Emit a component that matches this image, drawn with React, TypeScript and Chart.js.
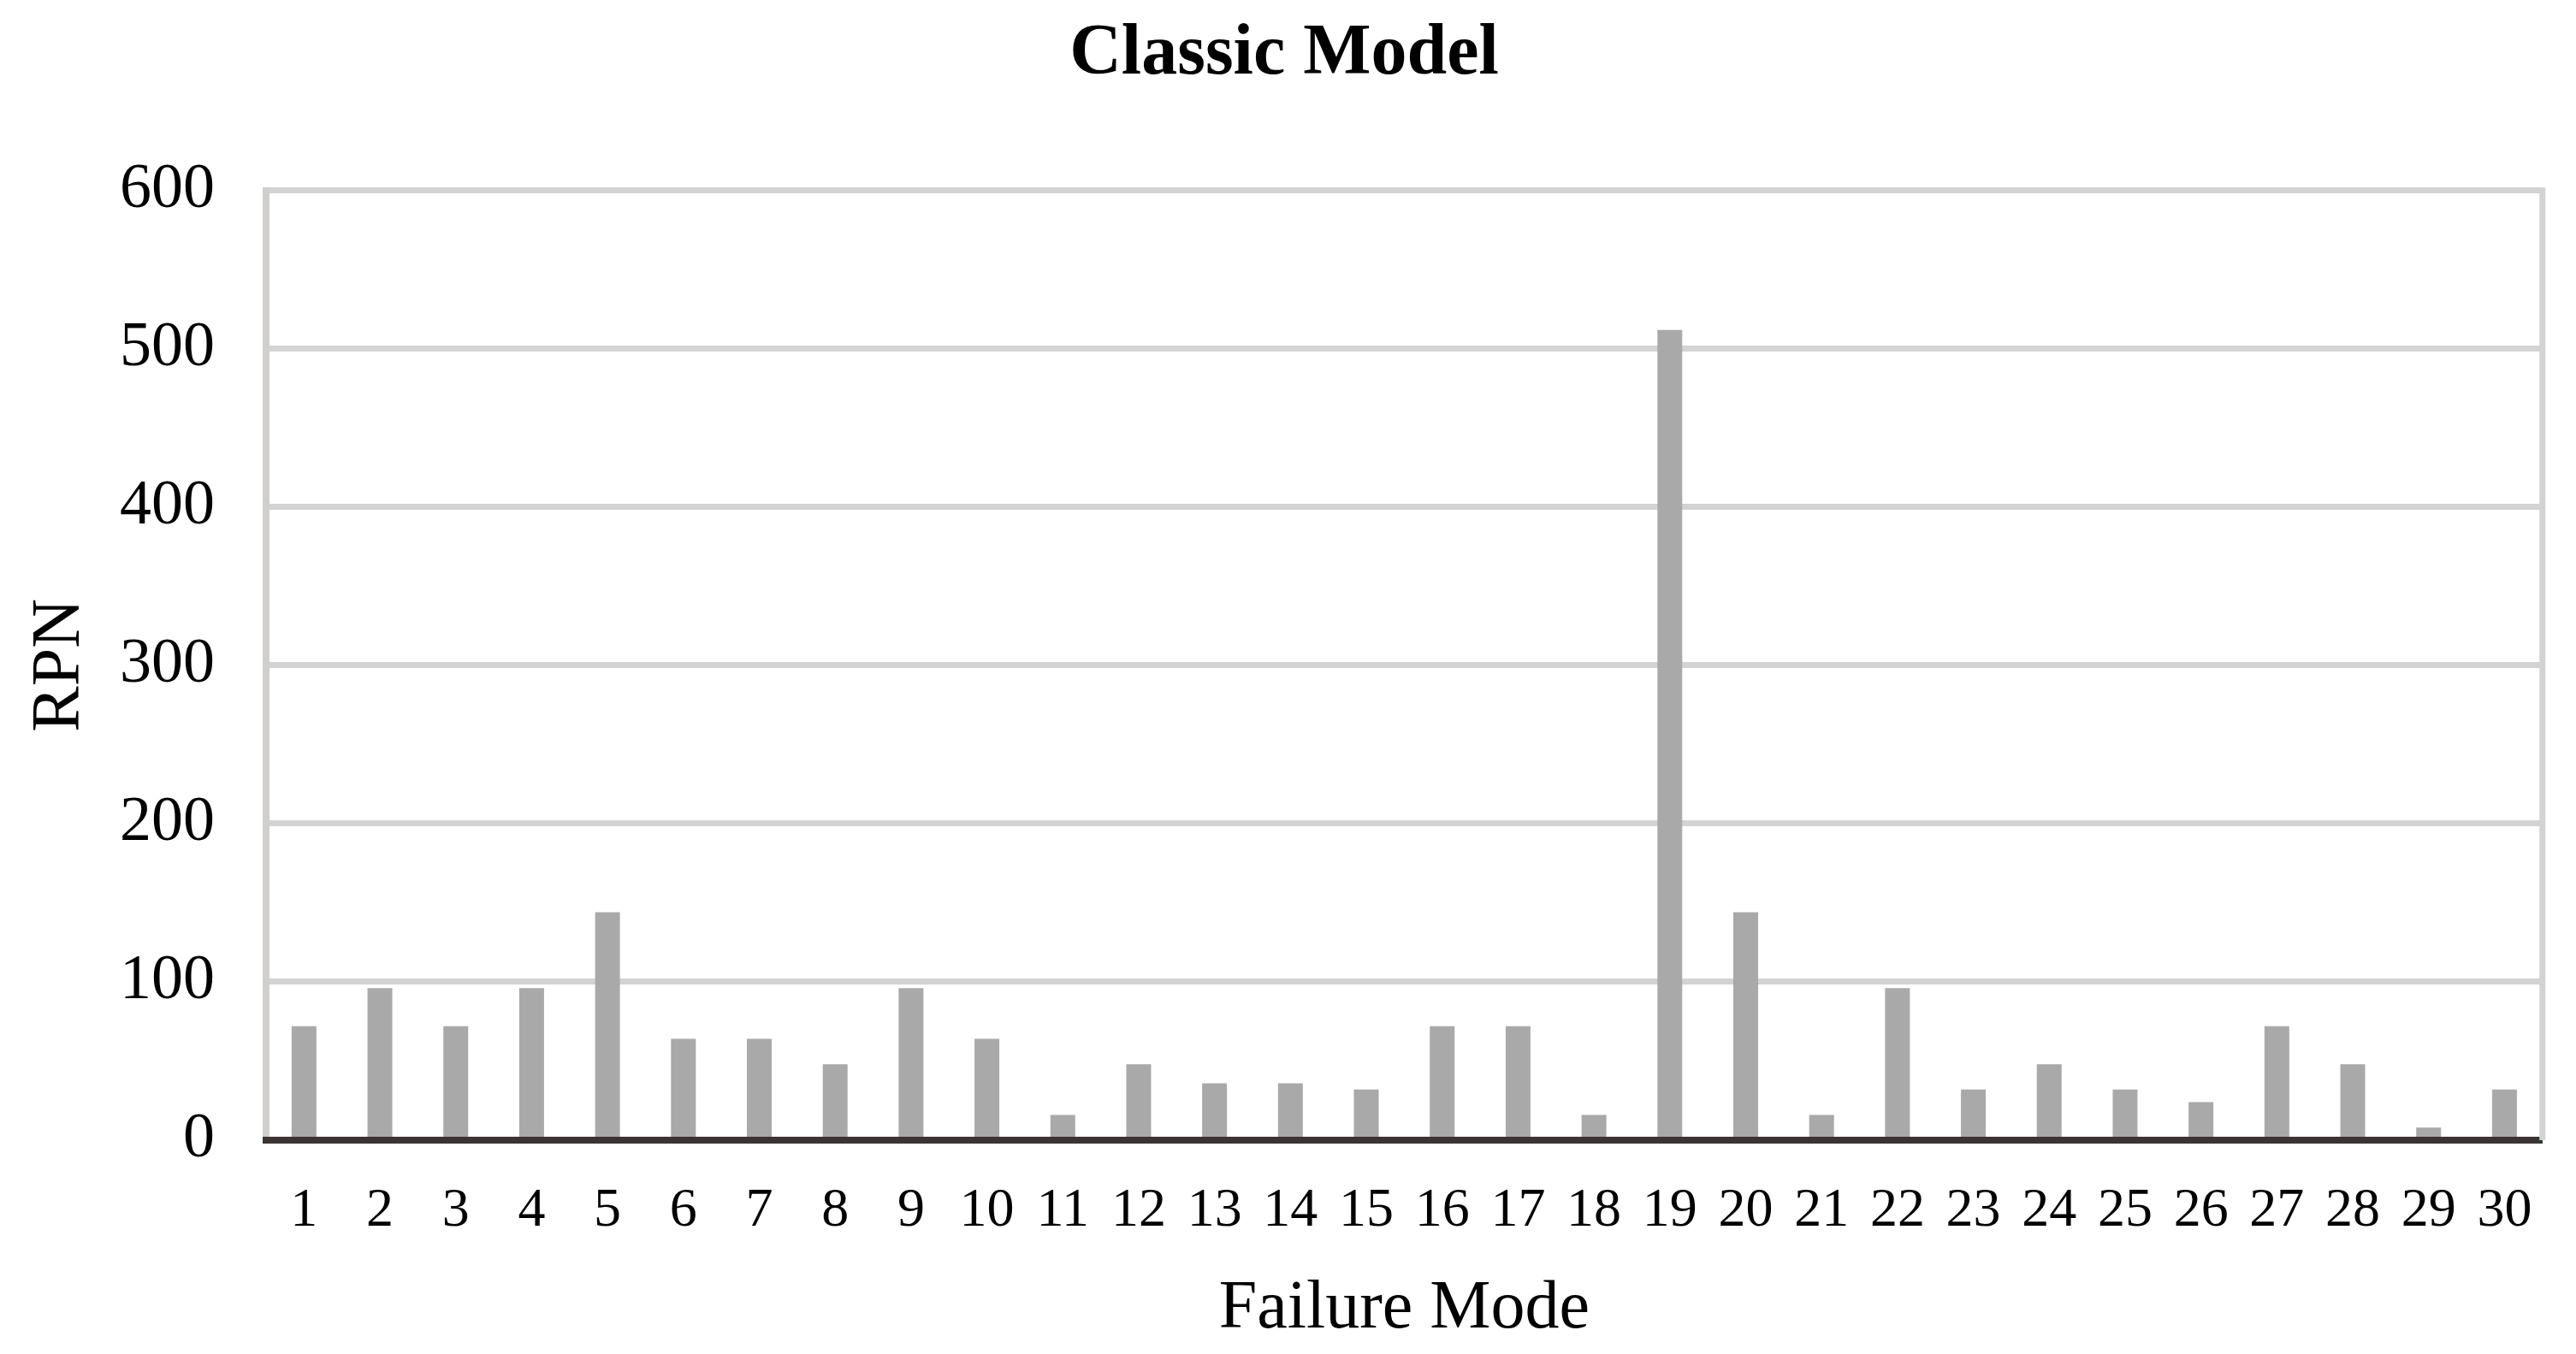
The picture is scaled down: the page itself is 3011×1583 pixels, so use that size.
import React, { useEffect, useRef } from "react";
import { Chart, registerables } from "chart.js";

Chart.register(...registerables);

const categories: string[] = [
  "1", "2", "3", "4", "5", "6", "7", "8", "9", "10",
  "11", "12", "13", "14", "15", "16", "17", "18", "19", "20",
  "21", "22", "23", "24", "25", "26", "27", "28", "29", "30",
];
const rpnValues: number[] = [
  72, 96, 72, 96, 144, 64, 64, 48, 96, 64,
  16, 48, 36, 36, 32, 72, 72, 16, 512, 144,
  16, 96, 32, 48, 32, 24, 72, 48, 8, 32,
];
const yTicks: number[] = [0, 100, 200, 300, 400, 500, 600];

const chartTitle = "Classic Model";
const xTitle = "Failure Mode";
const yTitle = "RPN";

const FONT = "'Liberation Serif', 'Times New Roman', serif";

const rightBorder = {
  id: "rightBorder",
  afterDraw(chart: any) {
    const { ctx, chartArea } = chart;
    ctx.save();
    ctx.strokeStyle = "#d3d3d3";
    ctx.lineWidth = 7;
    ctx.beginPath();
    ctx.moveTo(chartArea.right, chartArea.top - 3.5);
    ctx.lineTo(chartArea.right, chartArea.bottom);
    ctx.stroke();
    ctx.restore();
  },
};

export default function App() {
  const ref = useRef<HTMLCanvasElement | null>(null);

  useEffect(() => {
    if (!ref.current) return;
    const chart = new Chart(ref.current, {
      type: "bar",
      data: {
        labels: categories,
        datasets: [
          {
            label: yTitle,
            data: rpnValues,
            backgroundColor: "#a9a9a9",
            borderWidth: 0,
            barPercentage: 0.327,
            categoryPercentage: 1,
          },
        ],
      },
      options: {
        animation: false,
        responsive: true,
        maintainAspectRatio: false,
        layout: { padding: { left: 26, right: 35, top: 0, bottom: 12 } },
        plugins: {
          legend: { display: false },
          tooltip: { enabled: false },
          title: {
            display: true,
            text: chartTitle,
            color: "#000",
            font: { family: FONT, size: 84, weight: "bold" },
            padding: { top: 14, bottom: 108 },
          },
        },
        scales: {
          x: {
            grid: { display: false, drawTicks: false },
            border: { display: true, color: "#3a3533", width: 8, z: 1 },
            ticks: {
              color: "#000",
              font: { family: FONT, size: 64, lineHeight: 1 },
              padding: 51,
              maxRotation: 0,
              autoSkip: false,
            },
            title: {
              display: true,
              text: xTitle,
              color: "#000",
              font: { family: FONT, size: 80, lineHeight: 1 },
              padding: { top: -8, bottom: 0 },
            },
          },
          y: {
            min: 0,
            max: 600,
            afterBuildTicks(scale: any) {
              scale.ticks = yTicks.map((v) => ({ value: v }));
            },
            afterFit(scale: any) {
              scale.width = 285;
            },
            grid: { color: "#d3d3d3", lineWidth: 7, drawTicks: false },
            border: { display: true, color: "#d0cfcd", width: 8 },
            ticks: {
              color: "#000",
              font: { family: FONT, size: 74 },
              padding: 60,
            },
            title: {
              display: true,
              text: yTitle,
              color: "#000",
              font: { family: FONT, size: 80 },
              padding: { top: -3, bottom: 0 },
            },
          },
        },
      },
      plugins: [rightBorder],
    });
    return () => chart.destroy();
  }, []);

  return (
    <div
      style={{
        position: "fixed",
        left: 0,
        top: 0,
        width: 3011,
        height: 1583,
        background: "#fff",
      }}
    >
      <canvas ref={ref} />
    </div>
  );
}
